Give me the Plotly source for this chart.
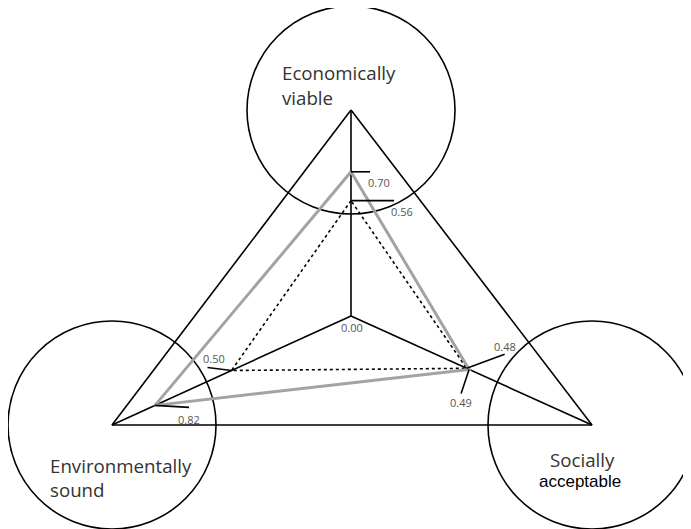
import plotly.graph_objects as go

# pillars of the triangle (top, left, right)
pillars = ["Economically viable", "Environmentally sound", "Socially acceptable"]
scenario_dashed = [0.56, 0.50, 0.48]
scenario_grey = [0.70, 0.82, 0.49]
dashed_labels = ["0.56", "0.50", "0.48"]
grey_labels = ["0.70", "0.82", "0.49"]
origin_label = "0.00"

W, H = 691, 529
PAGE_OFF = 8  # body margin of the page

# drawing geometry (pixel space, y down)
CENTER = (351, 316)
VERTS = [(351, 110), (112, 425), (592, 425)]
CIRCLE_R = 104


def pos(i, v):
    cx, cy = CENTER
    vx, vy = VERTS[i]
    return cx + v * (vx - cx), cy + v * (vy - cy)


fig = go.Figure()

# outer triangle
fig.add_trace(go.Scatter(
    x=[v[0] for v in VERTS] + [VERTS[0][0]],
    y=[v[1] for v in VERTS] + [VERTS[0][1]],
    mode="lines", line=dict(color="black", width=1.6),
    hoverinfo="skip", showlegend=False
))

# axes from center to vertices
for i in range(3):
    p = pos(i, 1.0)
    fig.add_trace(go.Scatter(
        x=[CENTER[0], p[0]], y=[CENTER[1], p[1]],
        mode="lines", line=dict(color="black", width=1.6),
        hoverinfo="skip", showlegend=False
    ))

# dashed scenario
pts = [pos(i, v) for i, v in enumerate(scenario_dashed)]
fig.add_trace(go.Scatter(
    x=[p[0] for p in pts] + [pts[0][0]],
    y=[p[1] for p in pts] + [pts[0][1]],
    mode="lines", line=dict(color="black", width=1.6, dash="3px,3px"),
    hoverinfo="skip", showlegend=False
))

# grey scenario
pts = [pos(i, v) for i, v in enumerate(scenario_grey)]
fig.add_trace(go.Scatter(
    x=[p[0] for p in pts] + [pts[0][0]],
    y=[p[1] for p in pts] + [pts[0][1]],
    mode="lines", line=dict(color="#a3a3a3", width=3),
    hoverinfo="skip", showlegend=False
))

# value ticks: (tick offset, label offset) relative to the value point
tick_style = {
    ("d", 0): ((43, 0), (51, 11)),
    ("d", 1): ((-24, -3), (-18, -12)),
    ("d", 2): ((38, -14), (38, -22)),
    ("g", 0): ((19, 0), (28, 11)),
    ("g", 1): ((34, 2), (34, 14)),
    ("g", 2): ((-8, 24), (-8, 33)),
}
for key, vals, labs in [("d", scenario_dashed, dashed_labels), ("g", scenario_grey, grey_labels)]:
    for i, v in enumerate(vals):
        px, py = pos(i, v)
        (tx, ty), (lx, ly) = tick_style[(key, i)]
        fig.add_trace(go.Scatter(
            x=[px, px + tx], y=[py, py + ty], mode="lines",
            line=dict(color="black", width=1.6),
            hoverinfo="skip", showlegend=False
        ))
        fig.add_annotation(x=px + lx, y=py + ly, text=labs[i], showarrow=False,
                           font=dict(family="Open Sans", size=11, color="#555555"))

fig.add_annotation(x=CENTER[0] + 1, y=CENTER[1] + 11, text=origin_label, showarrow=False,
                   font=dict(family="Open Sans", size=11, color="#555555"))

# circles at the vertices
for vx, vy in VERTS:
    fig.add_shape(type="circle", xref="x", yref="y",
                  x0=vx - CIRCLE_R, x1=vx + CIRCLE_R, y0=vy - CIRCLE_R, y1=vy + CIRCLE_R,
                  line=dict(color="black", width=1.6), layer="below")

name_font = dict(family="Open Sans", size=18.7, color="#333333")
fig.add_annotation(x=280, y=72, text="Economically", showarrow=False, xanchor="left", font=name_font)
fig.add_annotation(x=280, y=97, text="viable", showarrow=False, xanchor="left", font=name_font)
fig.add_annotation(x=48, y=465, text="Environmentally", showarrow=False, xanchor="left", font=name_font)
fig.add_annotation(x=48, y=489, text="sound", showarrow=False, xanchor="left", font=name_font)
fig.add_annotation(x=582, y=459, text="Socially", showarrow=False, font=name_font)
fig.add_annotation(x=580, y=481, text="acceptable", showarrow=False,
                   font=dict(family="Liberation Sans", size=17, color="black"))

fig.update_xaxes(range=[PAGE_OFF, W + PAGE_OFF], visible=False, fixedrange=True)
fig.update_yaxes(range=[H + PAGE_OFF, PAGE_OFF], visible=False, fixedrange=True)
fig.update_layout(
    width=W, height=H,
    margin=dict(l=0, r=0, t=0, b=0),
    plot_bgcolor="white", paper_bgcolor="white",
    showlegend=False
)

fig.write_html("out.html")
